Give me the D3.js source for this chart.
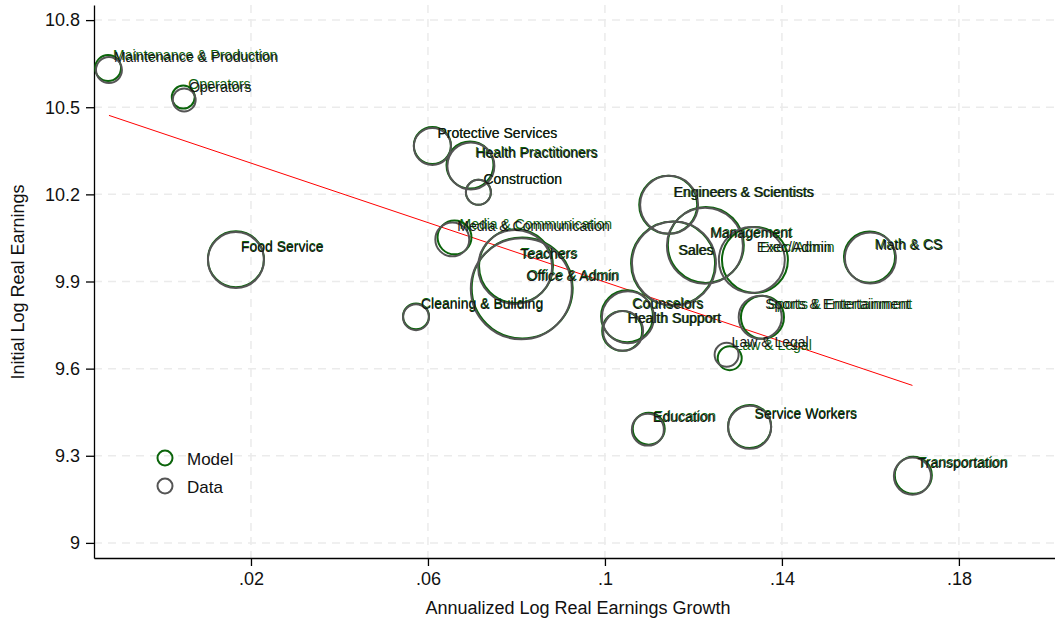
<!DOCTYPE html>
<html>
<head>
<meta charset="utf-8">
<script src="https://cdn.jsdelivr.net/npm/d3@7"></script>
<style>
  html, body { margin: 0; padding: 0; background: #fff; }
  svg { display: block; font-family: "Liberation Sans", Arial, Helvetica, sans-serif; }
</style>
</head>
<body>
<svg id="chart" width="1055" height="623"></svg>
<script>
// Occupations
const categories = [
  "Maintenance & Production", "Operators", "Protective Services", "Health Practitioners",
  "Construction", "Media & Communication", "Teachers", "Office & Admin",
  "Cleaning & Building", "Food Service", "Engineers & Scientists", "Management",
  "Sales", "Exec/Admin", "Math & CS", "Counselors",
  "Health Support", "Sports & Entertainment", "Law & Legal", "Education",
  "Service Workers", "Transportation"
];

// Observed: annualized log real earnings growth, initial log real earnings, bubble weight
const dataGrowth = [
  -0.0121, 0.0049, 0.0610, 0.0697, 0.0714, 0.0655, 0.0797, 0.0811,
  0.0573, 0.0166, 0.1145, 0.1226, 0.1156, 0.1332, 0.1600, 0.1052,
  0.1041, 0.1351, 0.1275, 0.1097, 0.1327, 0.1695
];
const dataInitial = [
  10.628, 10.525, 10.365, 10.298, 10.207, 10.045, 9.950, 9.875,
  9.777, 9.974, 10.164, 10.023, 9.962, 9.974, 9.981, 9.777,
  9.730, 9.777, 9.648, 9.390, 9.398, 9.230
];
const weights = [
  0.42, 0.33, 0.86, 1.38, 0.39, 0.72, 3.42, 6.38,
  0.42, 1.96, 2.10, 3.61, 4.41, 2.72, 1.63, 1.69,
  1.00, 1.16, 0.36, 0.64, 1.16, 0.86
];

// Model-implied counterparts
const modelGrowth = [
  -0.0123, 0.0047, 0.0610, 0.0695, 0.0714, 0.0660, 0.0799, 0.0813,
  0.0573, 0.0166, 0.1143, 0.1228, 0.1154, 0.1339, 0.1598, 0.1050,
  0.1039, 0.1356, 0.1282, 0.1099, 0.1327, 0.1697
];
const modelInitial = [
  10.635, 10.535, 10.368, 10.301, 10.207, 10.052, 9.953, 9.878,
  9.780, 9.977, 10.164, 10.026, 9.962, 9.974, 9.984, 9.780,
  9.730, 9.777, 9.636, 9.393, 9.401, 9.233
];

// Linear fit of initial earnings on growth
const fitCoef = [10.410, -5.12]; // intercept, slope

const xTicks = [0.02, 0.06, 0.10, 0.14, 0.18];
const xTickLabels = [".02", ".06", ".1", ".14", ".18"];
const yTicks = [9, 9.3, 9.6, 9.9, 10.2, 10.5, 10.8];
const yTickLabels = ["9", "9.3", "9.6", "9.9", "10.2", "10.5", "10.8"];

const legendItems = ["Model", "Data"];

const GREEN = "#0b640b";
const GRAY = "#555555";

const svg = d3.select("#chart");
const plot = { left: 94, right: 1055, top: 5, bottom: 558 };

const x = d3.scaleLinear().domain([-0.01548, 0.20172]).range([plot.left, plot.right]);
const y = d3.scaleLinear().domain([8.948, 10.852]).range([plot.bottom, plot.top]);
const r = d3.scaleSqrt().domain([0, 7]).range([0, 52.9]);

// grid
const grid = svg.append("g");
grid.selectAll("line.gx").data(xTicks).join("line")
  .attr("x1", d => x(d)).attr("x2", d => x(d))
  .attr("y1", plot.top).attr("y2", plot.bottom)
  .attr("stroke", "#ebebeb").attr("stroke-width", 1.5).attr("stroke-dasharray", "8,6");
grid.selectAll("line.gy").data(yTicks).join("line")
  .attr("x1", plot.left).attr("x2", plot.right)
  .attr("y1", d => y(d)).attr("y2", d => y(d))
  .attr("stroke", "#ebebeb").attr("stroke-width", 1.5).attr("stroke-dasharray", "8,6");

// axes
const xAxis = d3.axisBottom(x).tickValues(xTicks)
  .tickFormat((d, i) => xTickLabels[i]).tickSize(8).tickSizeOuter(0).tickPadding(6);
const gx = svg.append("g").attr("transform", `translate(0,${plot.bottom})`).call(xAxis);
const yAxis = d3.axisLeft(y).tickValues(yTicks)
  .tickFormat((d, i) => yTickLabels[i]).tickSize(8).tickSizeOuter(0).tickPadding(6);
const gy = svg.append("g").attr("transform", `translate(${plot.left},0)`).call(yAxis);
[gx, gy].forEach(g => {
  g.select(".domain").attr("stroke", "#000").attr("stroke-width", 1.3);
  g.selectAll(".tick line").attr("stroke", "#000").attr("stroke-width", 1.3);
  g.selectAll(".tick text").attr("font-size", 18).attr("fill", "#111")
    .attr("font-family", "Liberation Sans, Arial, sans-serif");
});

svg.append("text").attr("x", 578).attr("y", 614).attr("text-anchor", "middle")
  .attr("font-size", 18).attr("fill", "#111").text("Annualized Log Real Earnings Growth");
svg.append("text").attr("transform", "translate(24,282) rotate(-90)").attr("text-anchor", "middle")
  .attr("font-size", 18).attr("fill", "#111").text("Initial Log Real Earnings");

// fitted line across observed growth range
const xr = d3.extent(dataGrowth);
const line = d3.line().x(d => x(d)).y(d => y(fitCoef[0] + fitCoef[1] * d));
svg.append("path").datum(xr).attr("d", line)
  .attr("fill", "none").attr("stroke", "#ff0000").attr("stroke-width", 1);

const idx = d3.range(categories.length);

// model bubbles and labels
const gm = svg.append("g");
gm.selectAll("circle").data(idx).join("circle")
  .attr("cx", i => x(modelGrowth[i])).attr("cy", i => y(modelInitial[i]))
  .attr("r", i => r(weights[i]))
  .attr("fill", "none").attr("stroke", GREEN).attr("stroke-width", 2);
gm.selectAll("text").data(idx).join("text")
  .attr("x", i => x(modelGrowth[i]) + 5).attr("y", i => y(modelInitial[i]) - 8)
  .attr("font-size", 14).attr("fill", GREEN).text(i => categories[i]);

// observed bubbles and labels
const gd = svg.append("g");
gd.selectAll("circle").data(idx).join("circle")
  .attr("cx", i => x(dataGrowth[i])).attr("cy", i => y(dataInitial[i]))
  .attr("r", i => r(weights[i]))
  .attr("fill", "none").attr("stroke", GRAY).attr("stroke-width", 2);
gd.selectAll("text").data(idx).join("text")
  .attr("x", i => x(dataGrowth[i]) + 5).attr("y", i => y(dataInitial[i]) - 8)
  .attr("font-size", 14).attr("fill", "#161616").text(i => categories[i]);

// legend
const lg = svg.append("g");
const lcolors = [GREEN, GRAY];
legendItems.forEach((t, i) => {
  lg.append("circle").attr("cx", 165).attr("cy", 458 + i * 28).attr("r", 7.5)
    .attr("fill", "none").attr("stroke", lcolors[i]).attr("stroke-width", 2);
  lg.append("text").attr("x", 187).attr("y", 465 + i * 28)
    .attr("font-size", 17).attr("fill", "#111").text(t);
});
</script>
</body>
</html>
